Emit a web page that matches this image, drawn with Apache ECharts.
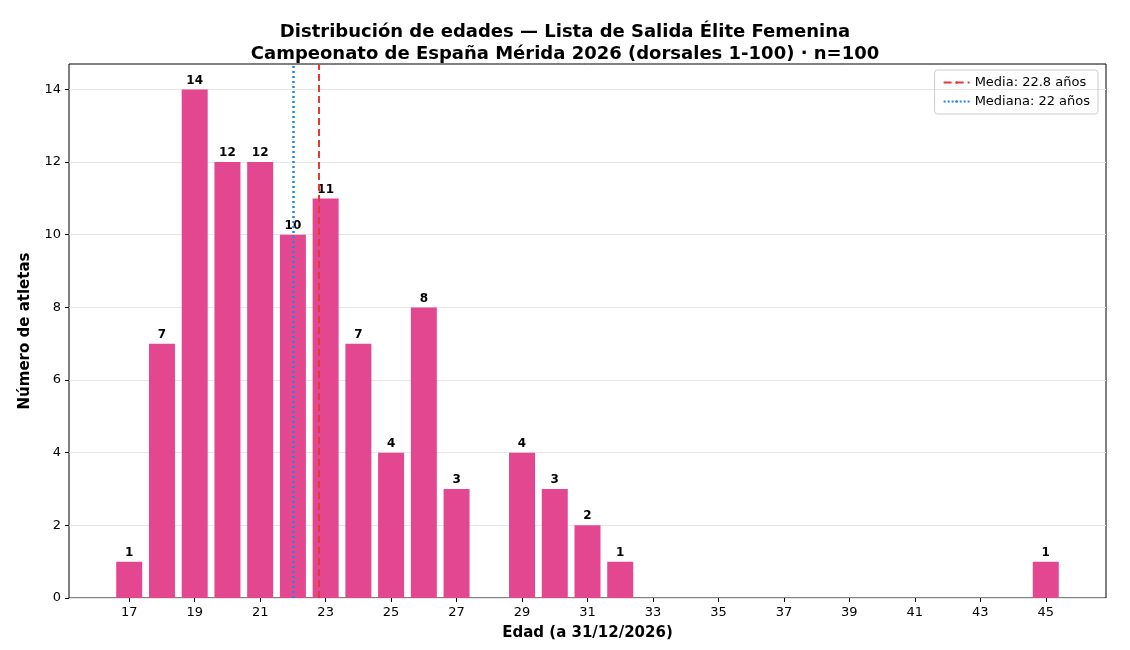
<!DOCTYPE html>
<html><head><meta charset="utf-8">
<script src="https://cdn.jsdelivr.net/npm/echarts@6/dist/echarts.min.js"></script>
<style>body{margin:0}#c{width:1130px;height:650px}</style></head>
<body><div id="c"></div>
<script>
var ages = [17,18,19,20,21,22,23,24,25,26,27,29,30,31,32,45]
var counts = [1,7,14,12,12,10,11,7,4,8,3,4,3,2,1,1]
var xTicks = [17,19,21,23,25,27,29,31,33,35,37,39,41,43,45]
var yTicks = [0,2,4,6,8,10,12,14]
var mean = 22.8, median = 22

var chart = echarts.init(document.getElementById('c'))
var font = 'DejaVu Sans'
chart.setOption({
  textStyle: {fontFamily: font},
  animation: false,
  title: {
    text: 'Distribución de edades — Lista de Salida Élite Femenina\nCampeonato de España Mérida 2026 (dorsales 1-100) · n=100',
    left: 'center', top: 16,
    textStyle: {fontSize: 18, fontWeight: 'bold', color: '#000', lineHeight: 22, fontFamily: font}
  },
  legend: {
    right: 32, top: 70, orient: 'vertical', itemGap: 6,
    borderColor: '#ccc', borderWidth: 1, borderRadius: 3, padding: [6, 8],
    itemWidth: 26, itemHeight: 3,
    textStyle: {fontSize: 13, color: '#000'},
    data: ['Media: 22.8 años', 'Mediana: 22 años']
  },
  grid: {left: 69, right: 24, top: 64, bottom: 52, show: true, borderColor: '#000', borderWidth: 1},
  xAxis: {
    type: 'value', min: 15.16, max: 46.84,
    name: 'Edad (a 31/12/2026)', nameLocation: 'middle', nameGap: 28,
    nameTextStyle: {fontSize: 15, fontWeight: 'bold', color: '#000'},
    axisLine: {show: false}, splitLine: {show: false},
    axisTick: {show: true, customValues: xTicks, length: 4, lineStyle: {color: '#000'}},
    axisLabel: {customValues: xTicks, fontSize: 13, color: '#000'}
  },
  yAxis: {
    type: 'value', min: 0, max: 14.7,
    name: 'Número de atletas', nameLocation: 'middle', nameGap: 36,
    nameTextStyle: {fontSize: 15, fontWeight: 'bold', color: '#000'},
    axisLine: {show: false},
    axisTick: {show: true, customValues: yTicks, length: 4, lineStyle: {color: '#000'}},
    axisLabel: {customValues: yTicks, fontSize: 13, color: '#000'},
    splitLine: {show: true, customValues: yTicks, lineStyle: {color: '#e6e6e6'}}
  },
  series: [{
    type: 'bar', barWidth: 26,
    itemStyle: {color: '#e2478f'},
    label: {show: true, position: 'top', fontWeight: 'bold', fontSize: 12, color: '#000', distance: 3},
    data: ages.map(function (a, i) { return [a, counts[i]] })
  }, {
    name: 'Media: 22.8 años', type: 'line', data: [],
    lineStyle: {color: '#e53935', type: 'dashed', width: 2}, itemStyle: {color: '#e53935'}, symbol: 'none',
    markLine: {symbol: 'none', silent: true, label: {show: false},
      lineStyle: {color: '#e53935', type: [7, 4], width: 2}, data: [{xAxis: mean}]}
  }, {
    name: 'Mediana: 22 años', type: 'line', data: [],
    lineStyle: {color: '#1e88e5', type: 'dotted', width: 2}, itemStyle: {color: '#1e88e5'}, symbol: 'none',
    markLine: {symbol: 'none', silent: true, label: {show: false},
      lineStyle: {color: '#1e88e5', type: [2, 3], width: 2.5}, data: [{xAxis: median}]}
  }]
})
</script></body></html>
